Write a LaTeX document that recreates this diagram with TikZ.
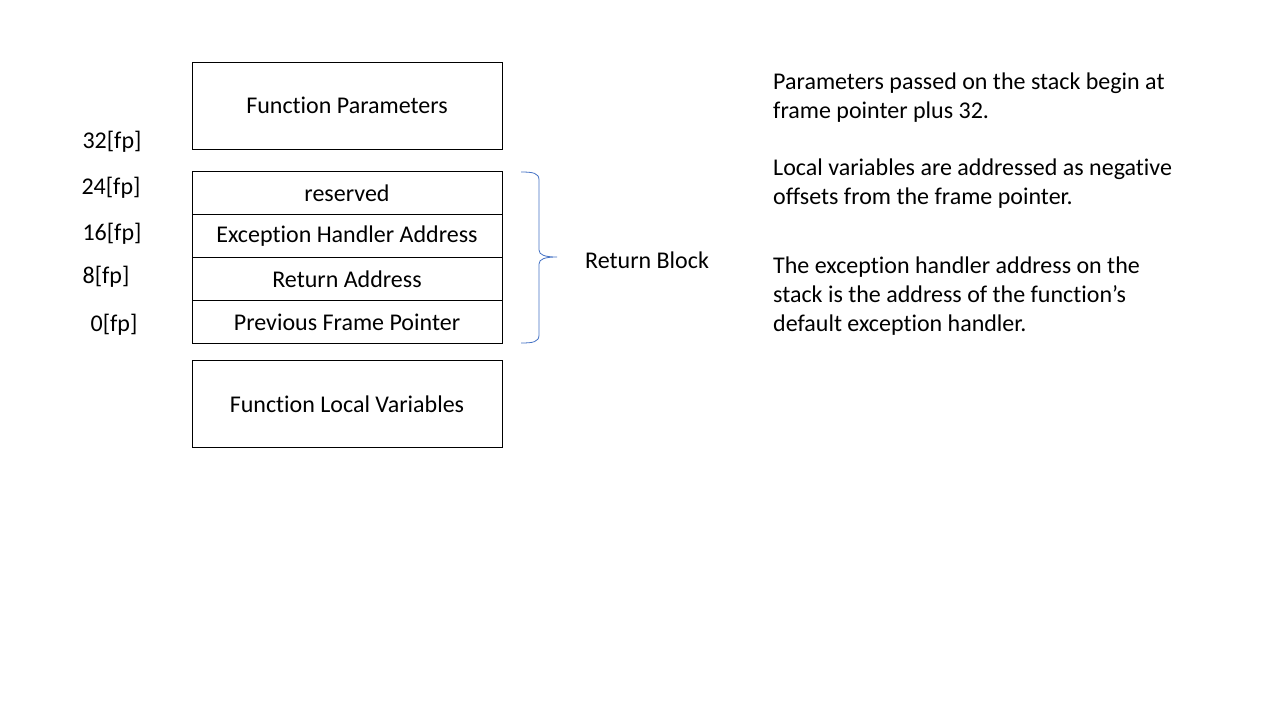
\documentclass[tikz,border=0pt]{standalone}
\usepackage{fontspec}
\setmainfont{Carlito}[Ligatures=NoCommon]
\usetikzlibrary{positioning}

\tikzstyle{frame} = [rectangle, minimum width=310pt, minimum height=87pt, text centered, draw=black, line width=0.8pt, inner sep=0pt]
\tikzstyle{cell} = [rectangle, minimum width=310pt, minimum height=43pt, text centered, draw=black, line width=0.8pt, inner sep=0pt]
\tikzstyle{offset} = [inner sep=0pt]
\tikzstyle{note} = [anchor=base west, inner sep=0pt, align=left]
\tikzstyle{bracket} = [draw={rgb,255:red,68;green,114;blue,196}, line width=0.8pt]

\begin{document}
\begin{tikzpicture}[x=1pt, y=-1pt, node distance=0pt, font=\fontsize{24}{29}\selectfont]
	\useasboundingbox (0,0) rectangle (1280,720);
	% Place nodes
	\node [frame] (Params) at (347,105.5) {Function Parameters};
	\node [cell, anchor=north] (Reserved) at (347,171) {reserved};
	\node [cell, below=of Reserved, yshift=0.8pt] (ExcHandler) {Exception Handler Address};
	\node [cell, below=of ExcHandler, yshift=0.8pt] (RetAddr) {Return Address};
	\node [cell, below=of RetAddr, yshift=0.8pt] (PrevFP) {Previous Frame Pointer};
	\node [frame] (Locals) at (347,404) {Function Local Variables};
	% Offsets
	\node [offset] (Off32) at (112,141.5) {32[fp]};
	\node [offset] (Off24) at (111,187.5) {24[fp]};
	\node [offset] (Off16) at (112,233.5) {16[fp]};
	\node [offset] (Off8) at (106,276.5) {8[fp]};
	\node [offset] (Off0) at (114,324.5) {0[fp]};
	% Return block
	\coordinate (BraceTop) at (521,172);
	\coordinate (BraceTip) at (557,257);
	\coordinate (BraceBot) at (521,343);
	\node [offset, anchor=west] (RetBlock) at (585,260) {Return Block};
	\draw [bracket] (BraceTop) .. controls (533,172) and (539,173) .. (539,180) -- (539,250)
		.. controls (539,255) and (545,257) .. (BraceTip)
		.. controls (545,257) and (539,259) .. (539,264) -- (539,335)
		.. controls (539,342) and (533,343) .. (BraceBot);
	% Notes (anchored at the last line)
	\node [note] (NoteParams) at (773,118) {Parameters passed on the stack begin at\\frame pointer plus 32.};
	\node [note] (NoteLocals) at (773,204) {Local variables are addressed as negative\\offsets from the frame pointer.};
	\node [note] (NoteExc) at (773,331) {The exception handler address on the\\stack is the address of the function’s\\default exception handler.};
\end{tikzpicture}
\end{document}
